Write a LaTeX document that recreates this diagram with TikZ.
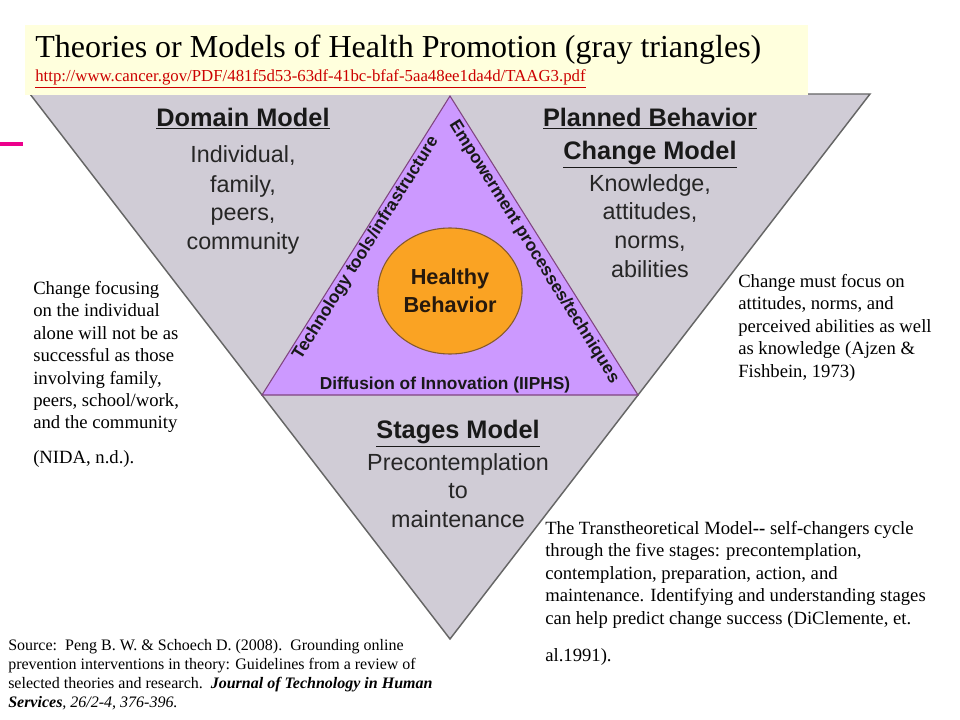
\documentclass[tikz,border=0pt]{standalone}
\usepackage{fontspec}
\setmainfont{Liberation Serif}
\setsansfont{Liberation Sans}
\usetikzlibrary{shapes.geometric}
\definecolor{graytri}{RGB}{208,204,214}
\definecolor{purpletri}{RGB}{204,153,255}
\definecolor{orangeball}{RGB}{250,163,35}
\definecolor{titlebg}{RGB}{255,255,221}
\definecolor{urlred}{RGB}{204,0,0}
\tikzset{
  model/.style={font=\sffamily\bfseries\fontsize{19}{24.75}\selectfont, align=center, anchor=north, inner sep=0pt, text=black!90},
  modeltext/.style={font=\sffamily\fontsize{17.5}{21.5}\selectfont, align=center, anchor=north, inner sep=0pt, text=black!85},
  edgetext/.style={font=\sffamily\bfseries\fontsize{13}{15}\selectfont, inner sep=0pt, text=black!90},
  note/.style={font=\fontsize{14}{16.8}\selectfont, align=left, anchor=north west, inner sep=0pt}
}
\begin{document}
\begin{tikzpicture}[x=0.75pt, y=-0.75pt]
\useasboundingbox (0,0) rectangle (960,720);
\coordinate (tl) at (30,94);
\coordinate (tr) at (870,94);
\coordinate (bt) at (450,639);
\coordinate (pt) at (450,96);
\coordinate (pl) at (262,395);
\coordinate (pr) at (638,395);
\draw[gray!80!black, line width=1.1pt, fill=graytri] (tl) -- (tr) -- (bt) -- cycle;
\draw[violet!45!gray, line width=0.8pt, fill=purpletri] (pt) -- (pr) -- (pl) -- cycle;
\node[ellipse, draw=brown!70!black, line width=0.8pt, fill=orangeball, minimum width=81pt, minimum height=94.5pt,
      font=\sffamily\bfseries\fontsize{16.3}{21}\selectfont, align=center, text=black!80!brown] (hb) at (450,291) {Healthy\\Behavior};
\fill[titlebg] (25,25) rectangle (808,95);
\node[anchor=base west, inner sep=0pt, font=\fontsize{24}{28}\selectfont] (title) at (35,58) {Theories or Models of Health Promotion (gray triangles)};
\node[anchor=base west, inner sep=0pt, font=\fontsize{12.6}{14}\selectfont, text=urlred] (url) at (35,82) {\underline{http://www.cancer.gov/PDF/481f5d53-63df-41bc-bfaf-5aa48ee1da4d/TAAG3.pdf}};
\draw[magenta, line width=3pt] (0,144) -- (23,144);
\node[model] (domain) at (243,108) {\underline{Domain Model}};
\node[modeltext, text depth=0pt] (domaintext) at (243,145) {Individual,\\[1pt]family,\\peers,\\community};
\node[model] (planned) at (650,108) {\underline{Planned Behavior}\\\underline{Change Model}};
\node[modeltext] (plannedtext) at (650,174) {Knowledge,\\attitudes,\\norms,\\abilities};
\node[model] (stages) at (458,420) {\underline{Stages Model}};
\node[modeltext] (stagestext) at (458,453) {Precontemplation\\to\\maintenance};
\node[edgetext, rotate=58] (tech) at (366,248) {Technology tools/infrastructure};
\node[edgetext, rotate=-58] (empower) at (534,252) {Empowerment processes/techniques};
\node[edgetext] (diffusion) at (445,385) {Diffusion of Innovation (IIPHS)};
\node[note] (leftnote) at (33,281) {Change focusing\\on the individual\\alone will not be as\\successful as those\\involving family,\\peers, school/work,\\and the community\\[9pt](NIDA, n.d.).};
\node[note] (rightnote) at (738,274) {Change must focus on\\attitudes, norms, and\\perceived abilities as well\\as knowledge (Ajzen \&\\Fishbein, 1973)};
\node[note] (stagenote) at (545,521) {The Transtheoretical Model\textbf{-{}-} self-changers cycle\\through the five stages: precontemplation,\\contemplation, preparation, action, and\\maintenance. Identifying and understanding stages\\can help predict change success (DiClemente, et.\\[11pt]al.1991).};
\node[note, font=\fontsize{12}{14.4}\selectfont] (source) at (8,639) {Source:\ \ Peng B. W. \& Schoech D. (2008).\ \ Grounding online\\prevention interventions in theory: Guidelines from a review of\\selected theories and research.\ \ \textbf{\textit{Journal of Technology in Human}}\\\textbf{\textit{Services}}\textit{, 26/2-4, 376-396.}};
\end{tikzpicture}
\end{document}
